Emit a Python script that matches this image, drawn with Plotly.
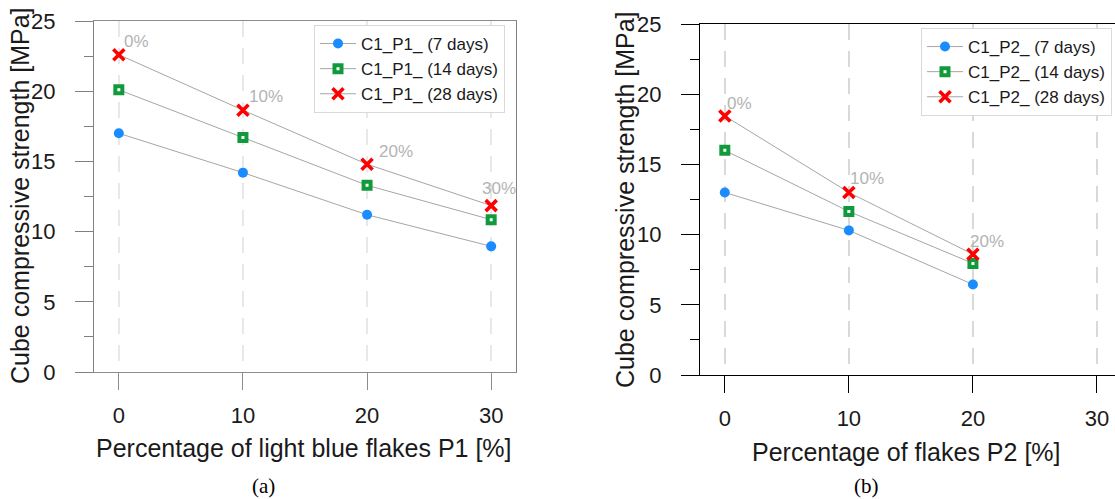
import plotly.graph_objects as go

# ---------------- data ----------------
pct = [0, 10, 20, 30]
p1_7 = [17.0, 14.2, 11.2, 8.95]
p1_14 = [20.1, 16.7, 13.3, 10.85]
p1_28 = [22.6, 18.65, 14.8, 11.85]
p1_labels = ["0%", "10%", "20%", "30%"]

pct2 = [0, 10, 20]
p2_7 = [13.0, 10.3, 6.45]
p2_14 = [16.0, 11.65, 7.95]
p2_28 = [18.45, 13.0, 8.6]
p2_labels = ["0%", "10%", "20%"]

x_ticks = [0, 10, 20, 30]
y_ticks = [0, 5, 10, 15, 20, 25]

xtitle1 = "Percentage of light blue flakes P1 [%]"
xtitle2 = "Percentage of flakes P2 [%]"
ytitle = "Cube compressive strength [MPa]"

# ---------------- layout helpers ----------------
W, H = 1115, 499
def px(x):
    return x / W
def py(y):
    return 1 - y / H

FONT = "Liberation Sans, Arial, sans-serif"
SERIF = "Liberation Serif, Times New Roman, serif"
LINE_GRAY = "#a6a6a6"
BLUE = "#1a8cff"
GREEN = "#119a3c"
RED = "#ff0000"

fig = go.Figure()

def add_series(x, y, name, kind, xa, ya, legend):
    if kind == "circle":
        marker = dict(symbol="circle", size=10, color=BLUE, line=dict(width=0))
    elif kind == "square":
        marker = dict(symbol="square", size=7, color="white", line=dict(color=GREEN, width=4))
    else:
        marker = dict(symbol="x-thin", size=11, color=RED, line=dict(color=RED, width=3.6))
    fig.add_trace(go.Scatter(
        x=x, y=y, name=name, mode="lines+markers",
        line=dict(color=LINE_GRAY, width=1), marker=marker,
        xaxis=xa, yaxis=ya, legend=legend,
    ))

add_series(pct, p1_7, "C1_P1_ (7 days)", "circle", "x", "y", "legend")
add_series(pct, p1_14, "C1_P1_ (14 days)", "square", "x", "y", "legend")
add_series(pct, p1_28, "C1_P1_ (28 days)", "x", "x", "y", "legend")
add_series(pct2, p2_7, "C1_P2_ (7 days)", "circle", "x2", "y2", "legend2")
add_series(pct2, p2_14, "C1_P2_ (14 days)", "square", "x2", "y2", "legend2")
add_series(pct2, p2_28, "C1_P2_ (28 days)", "x", "x2", "y2", "legend2")

# percentage labels near 28-day markers
shifts1 = [(3, 13), (4, 14), (10, 13), (-11, 17)]
for xv, yv, t, (dx, dy) in zip(pct, p1_28, p1_labels, shifts1):
    fig.add_annotation(x=xv, y=yv, xref="x", yref="y", text=t, showarrow=False,
                       xanchor="left", yanchor="middle", xshift=dx, yshift=dy,
                       font=dict(family=FONT, size=17, color="#b3b3b3"))
shifts2 = [(0, 12), (-1, 14), (-5, 13)]
for xv, yv, t, (dx, dy) in zip(pct2, p2_28, p2_labels, shifts2):
    fig.add_annotation(x=xv, y=yv, xref="x2", yref="y2", text=t, showarrow=False,
                       xanchor="left", yanchor="middle", xshift=dx, yshift=dy,
                       font=dict(family=FONT, size=17, color="#b3b3b3"))

# axis titles and panel captions
def cap(x, y, text, size, family, angle=0, color="#1a1a1a"):
    fig.add_annotation(x=px(x), y=py(y), xref="paper", yref="paper", text=text,
                       xanchor="center", yanchor="middle", textangle=angle,
                       showarrow=False, font=dict(family=family, size=size, color=color))

cap(304, 448, xtitle1, 25, FONT)
cap(906, 452, xtitle2, 25, FONT)
cap(20, 196, ytitle, 25, FONT, angle=-90)
cap(625, 200, ytitle, 25, FONT, angle=-90)
cap(263, 486, "(a)", 21, SERIF, color="black")
cap(866, 486, "(b)", 21, SERIF, color="black")

tickfont = dict(family=FONT, size=22, color="#1a1a1a")

def xaxis_cfg(dom, rng, anchor, linecolor, gridcolor, gridw):
    return dict(domain=dom, range=rng, anchor=anchor, tickvals=x_ticks, ticks="outside",
                ticklen=17, tickwidth=1.2, tickcolor=linecolor, showline=True,
                linecolor=linecolor, linewidth=1.2, mirror=True, showgrid=True,
                gridcolor=gridcolor, gridwidth=gridw, griddash="16px,11px",
                zeroline=False, tickfont=tickfont, automargin=False,
                ticklabelstandoff=6, fixedrange=True)

def yaxis_cfg(dom, anchor, linecolor, mirror):
    return dict(domain=dom, range=[0, 25], tickvals=y_ticks, ticks="outside", ticklen=18,
                tickwidth=1.2, tickcolor=linecolor, showline=True, linecolor=linecolor,
                linewidth=1.2, mirror=mirror, showgrid=False, zeroline=False,
                tickfont=tickfont, automargin=False, anchor=anchor, ticklabelstandoff=15,
                minor=dict(dtick=2.5, tick0=0, ticks="outside", ticklen=9,
                           tickcolor=linecolor, showgrid=False),
                fixedrange=True)

legend_common = dict(xanchor="left", yanchor="top", bgcolor="white",
                     bordercolor="#d9d9d9", borderwidth=1,
                     font=dict(family=FONT, size=17, color="#1a1a1a"),
                     itemwidth=36, tracegroupgap=0)

fig.update_layout(
    width=W, height=H,
    margin=dict(l=0, r=0, t=0, b=0),
    paper_bgcolor="white", plot_bgcolor="white",
    showlegend=True,
    xaxis=xaxis_cfg([px(94), px(516)], [-2, 32], "y", "#8c8c8c", "#e8e8e8", 1.5),
    yaxis=yaxis_cfg([py(372), py(21)], "x", "#808080", True),
    xaxis2=xaxis_cfg([px(700), 1.0], [-2, (1115 - 725) / 12.4], "y2", "#000000", "#d9d9d9", 2),
    yaxis2=yaxis_cfg([py(375), py(24)], "x2", "#000000", False),
    legend=dict(x=px(314), y=py(25), **legend_common),
    legend2=dict(x=px(921), y=py(28), **legend_common),
)

fig.write_html("out.html", config={"displayModeBar": False},
               post_script="document.body.style.margin='0';document.body.style.overflow='hidden';")
